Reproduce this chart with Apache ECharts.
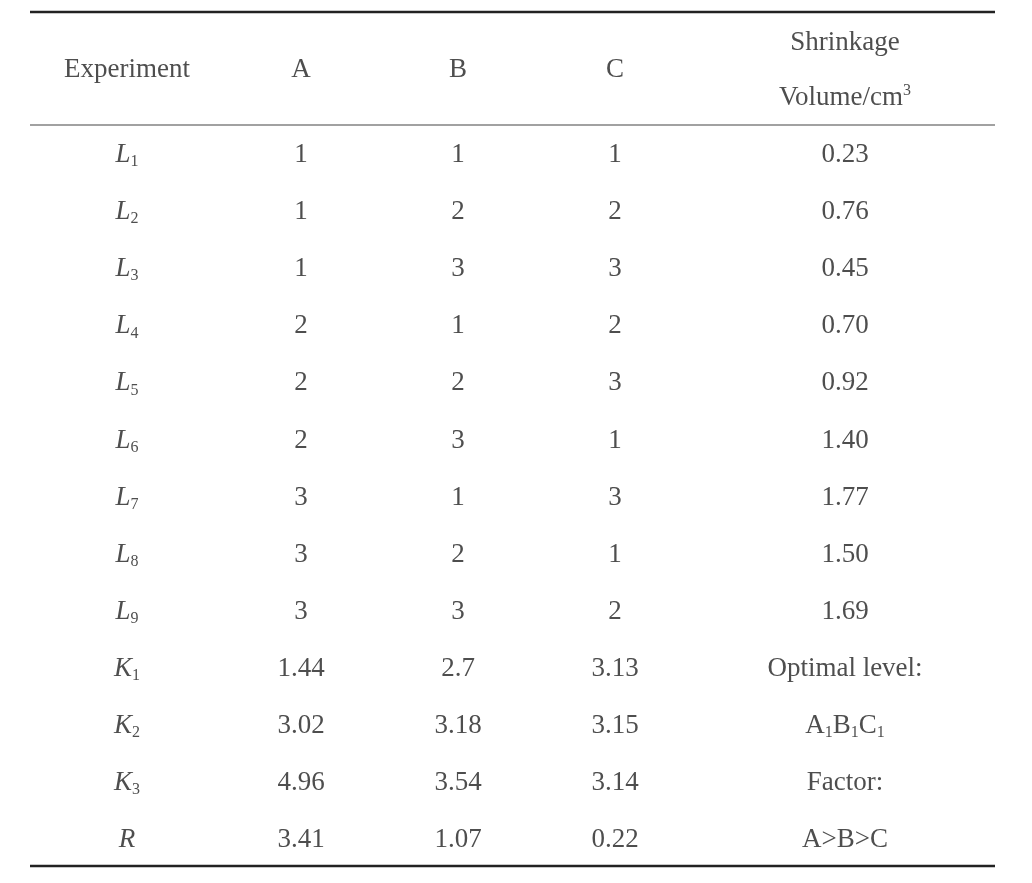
<!DOCTYPE html>
<html><head><meta charset="utf-8">
<script src="https://cdn.jsdelivr.net/npm/echarts@6/dist/echarts.min.js"></script>
<style>html,body{margin:0;background:#fff}#c{width:1032px;height:883px}</style>
</head><body><div id="c"></div>
<script>
const headers = ["Experiment","A","B","C","Shrinkage\nVolume/cm3"];
const rowLabels = ["L1","L2","L3","L4","L5","L6","L7","L8","L9","K1","K2","K3","R"];
const colA = ["1","1","1","2","2","2","3","3","3","1.44","3.02","4.96","3.41"];
const colB = ["1","2","3","1","2","3","1","2","3","2.7","3.18","3.54","1.07"];
const colC = ["1","2","3","2","3","1","3","1","2","3.13","3.15","3.14","0.22"];
const colD = ["0.23","0.76","0.45","0.70","0.92","1.40","1.77","1.50","1.69","Optimal level:","A1B1C1","Factor:","A>B>C"];

const colX = [127,301,458,615,845];
const FONT = "Liberation Serif";
function fmtRow(s){ return "{i|"+s[0]+"}{s|"+s.slice(1)+"}"; }
const data = [];
headers.forEach((h,c)=>data.push({value:[colX[c],-1.49],t:c===4?"{n|Shrinkage}\n{n|Volume/cm}{sup|3}":"{n|"+h+"}"}));
rowLabels.forEach((r,i)=>{
  data.push({value:[colX[0],i],t:fmtRow(r)});
  data.push({value:[colX[1],i],t:"{n|"+colA[i]+"}"});
  data.push({value:[colX[2],i],t:"{n|"+colB[i]+"}"});
  data.push({value:[colX[3],i],t:"{n|"+colC[i]+"}"});
  let d=colD[i];
  if(d==="A1B1C1") d="{n|A}{s|1}{n|B}{s|1}{n|C}{s|1}"; else d="{n|"+d+"}";
  data.push({value:[colX[4],i],t:d});
});
const chart = echarts.init(document.getElementById('c'));
chart.setOption({
  animation:false,
  grid:{left:0,right:0,top:0,bottom:0},
  xAxis:{type:'value',min:0,max:1032,show:false},
  yAxis:{type:'value',min:-2.715,max:12.75,inverse:true,show:false},
  graphic:[
    {type:'line',shape:{x1:30,y1:12,x2:995,y2:12},style:{stroke:'#222',lineWidth:2.5}},
    {type:'line',shape:{x1:30,y1:125,x2:995,y2:125},style:{stroke:'#444',lineWidth:1.2}},
    {type:'line',shape:{x1:30,y1:866,x2:995,y2:866},style:{stroke:'#222',lineWidth:2.5}}
  ],
  series:[{
    type:'scatter',symbolSize:0,data:data,
    label:{show:true,position:'inside',formatter:p=>p.data.t,color:'#222',
      rich:{
        n:{fontFamily:FONT,fontSize:27,lineHeight:55,color:'#222'},
        i:{fontFamily:FONT,fontSize:27,fontStyle:'italic',color:'#222'},
        s:{fontFamily:FONT,fontSize:16,padding:[14,0,0,0],color:'#222'},
        sup:{fontFamily:FONT,fontSize:16,padding:[0,0,14,0],color:'#222'}
      }}
  }]
});
</script></body></html>
